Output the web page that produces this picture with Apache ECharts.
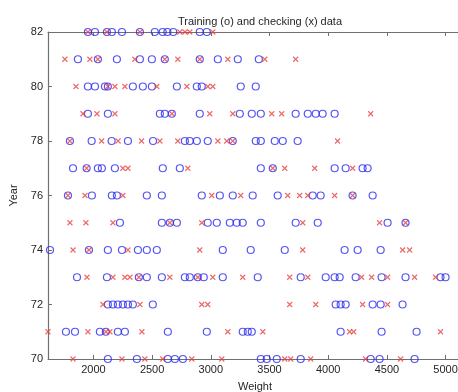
<!DOCTYPE html>
<html>
<head>
<meta charset="utf-8">
<script src="https://cdn.jsdelivr.net/npm/echarts@6/dist/echarts.min.js"></script>
<style>html,body{margin:0;padding:0;background:#fff}#c{width:458px;height:392px}</style>
</head>
<body>
<div id="c"></div>
<script>
const titleText = 'Training (o) and checking (x) data';
const xName = 'Weight';
const yName = 'Year';
const years = [70, 71, 72, 73, 74, 75, 76, 77, 78, 79, 80, 81, 82];
const xTickValues = [2000, 2500, 3000, 3500, 4000, 4500, 5000];
const yTickValues = [70, 72, 74, 76, 78, 80, 82];

// training data (o): weights per model year, same order as years
const trainWeights = [
  [2123, 2370, 2634, 2694, 2762, 3426, 3477, 3562, 3766, 4362, 4438, 4736],
  [1766, 1843, 2055, 2106, 2208, 2268, 2634, 2966, 3272, 3315, 3349, 4106, 4455, 4753],
  [2123, 2166, 2208, 2251, 2294, 2336, 2506, 4064, 4106, 4149, 4379, 4447, 4634],
  [1860, 2115, 2387, 2455, 2583, 2779, 2821, 2889, 2940, 3102, 3400, 3766, 3979, 4055, 4098, 4234, 4455, 4659, 4957, 5000],
  [1630, 1962, 2123, 2243, 2379, 2455, 2540, 3102, 3340, 3630, 4140, 4251, 4447],
  [2226, 2583, 2651, 2711, 2974, 3051, 3162, 3221, 3272, 3426, 3723, 3911, 4506, 4659],
  [1783, 1987, 2157, 2200, 2455, 2583, 2923, 3077, 3187, 3357, 3570, 3868, 3936, 4208, 4379],
  [1826, 1942, 2038, 2072, 2183, 2591, 2736, 3426, 3528, 4055, 4149, 4293, 4336],
  [1800, 1985, 2155, 2294, 2508, 2779, 2821, 2881, 2974, 3187, 3383, 3426, 3545, 3613, 3740],
  [1953, 2123, 2566, 2608, 2668, 2906, 3247, 3349, 3426, 3723, 3826, 3894, 3953, 4055],
  [1953, 2013, 2098, 2123, 2336, 2421, 2498, 2711, 2881, 2923, 3255, 3383],
  [1868, 2038, 2200, 2396, 2498, 2608, 2906, 3060, 3230, 3409],
  [1953, 2013, 2115, 2157, 2243, 2396, 2523, 2590, 2630, 2680, 2906, 2966]
];

// checking data (x): weights per model year, same order as years
const checkWeights = [
  [1826, 2243, 2438, 2591, 2838, 3094, 3630, 3681, 3851, 4319, 4617],
  [1613, 1953, 2106, 2140, 2413, 3145, 3443, 4183, 4217, 4957],
  [2081, 2396, 2923, 2974, 3672, 3894, 4293, 4506],
  [1945, 2166, 2268, 2311, 2387, 2651, 2889, 3017, 3272, 3672, 3826, 4285, 4370, 4506, 4736, 4915],
  [1826, 1962, 2294, 2906, 3783, 4634, 4694],
  [1800, 1936, 2166, 2651, 2923, 3783, 4438, 4659],
  [1783, 1928, 2251, 3008, 3255, 3655, 3757, 3826, 4055, 4208],
  [1942, 2251, 2294, 2804, 3528, 3630, 3885, 4208],
  [1800, 2070, 2210, 2410, 2566, 2719, 3060, 3136, 3187, 4080],
  [1911, 2030, 2183, 2668, 2991, 3187, 3519, 3604, 4362],
  [1851, 2123, 2183, 2268, 2540, 2796, 2974, 3017],
  [1757, 1970, 2038, 2353, 2608, 2719, 2906, 3145, 3460, 3723],
  [1953, 2115, 2396, 2736, 2780, 2821, 3017]
];

const xMin = 1613, xMax = 5140, yMin = 70, yMax = 82;

function toPoints(lists) {
  const pts = [];
  lists.forEach((ws, i) => ws.forEach(w => pts.push([w, years[i]])));
  return pts;
}

const FONT = 'Liberation Sans';
const axisCol = '#707070';
const textCol = '#262626';

const chart = echarts.init(document.getElementById('c'), null, {renderer: 'canvas'});
chart.setOption({
  animation: false,
  backgroundColor: '#ffffff',
  title: {
    text: titleText, left: 255, top: 11, textAlign: 'center',
    textStyle: {fontFamily: FONT, fontSize: 11, fontWeight: 'normal', color: textCol}
  },
  grid: {left: 48, top: 32, width: 414, height: 327, containLabel: false, outerBoundsMode: 'none'},
  xAxis: [{
    type: 'value', min: xMin, max: xMax, position: 'bottom',
    name: xName, nameLocation: 'middle', nameGap: 22,
    nameTextStyle: {fontFamily: FONT, fontSize: 11, color: textCol},
    axisLine: {show: true, onZero: false, lineStyle: {color: axisCol, width: 1.2}},
    axisTick: {show: true, inside: true, length: 4, customValues: xTickValues, lineStyle: {color: axisCol}},
    axisLabel: {show: true, customValues: xTickValues, margin: 5, fontFamily: FONT, fontSize: 11, color: textCol,
      formatter: v => String(v)},
    splitLine: {show: false}
  }, {
    type: 'value', min: xMin, max: xMax, position: 'top',
    axisLine: {show: true, onZero: false, lineStyle: {color: axisCol, width: 1.2}},
    axisTick: {show: true, inside: true, length: 4, customValues: xTickValues, lineStyle: {color: axisCol}},
    axisLabel: {show: false},
    splitLine: {show: false}
  }],
  yAxis: [{
    type: 'value', min: yMin, max: yMax, interval: 2, position: 'left',
    name: yName, nameLocation: 'middle', nameGap: 27, nameRotate: 90,
    nameTextStyle: {fontFamily: FONT, fontSize: 11, color: textCol},
    axisLine: {show: true, onZero: false, lineStyle: {color: axisCol, width: 1.2}},
    axisTick: {show: true, inside: true, length: 4, lineStyle: {color: axisCol}},
    axisLabel: {show: true, margin: 5, fontFamily: FONT, fontSize: 11, color: textCol,
      customValues: yTickValues, formatter: v => String(v)},
    splitLine: {show: false}
  }],
  series: [{
    name: 'Training', type: 'scatter', xAxisIndex: 0, yAxisIndex: 0,
    data: toPoints(trainWeights), symbol: 'circle', symbolSize: 7, clip: false,
    itemStyle: {color: 'rgba(0,0,0,0)', borderColor: '#2a2af0', borderWidth: 1.2},
    z: 3
  }, {
    name: 'Checking', type: 'scatter', xAxisIndex: 0, yAxisIndex: 0,
    data: toPoints(checkWeights), symbol: 'path://M0,0L10,10M10,0L0,10', symbolSize: 5, clip: false,
    itemStyle: {color: 'rgba(0,0,0,0)', borderColor: '#e84040', borderWidth: 1.1},
    z: 4
  }]
});
</script>
</body>
</html>
